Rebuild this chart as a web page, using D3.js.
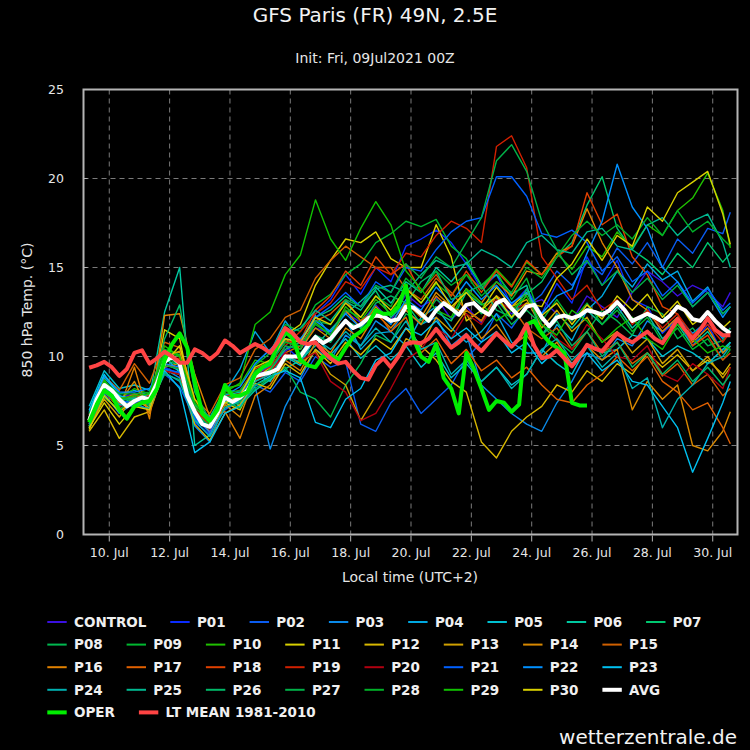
<!DOCTYPE html>
<html><head><meta charset="utf-8">
<script src="https://cdn.jsdelivr.net/npm/d3@7"></script>
<style>html,body{margin:0;padding:0;background:#000;}svg{display:block;}</style>
</head><body>
<svg id="chart" width="750" height="750"></svg>
<script>
// ---------- texts ----------
const titleText = "GFS Paris (FR) 49N, 2.5E";
const subtitleText = "Init: Fri, 09Jul2021 00Z";
const yAxisTitle = "850 hPa Temp. (°C)";
const xAxisTitle = "Local time (UTC+2)";
const watermarkText = "wetterzentrale.de";
const yTickValues = [0, 5, 10, 15, 20, 25];
const xTickDays = [10, 12, 14, 16, 18, 20, 22, 24, 26, 28, 30];
const xTickMonth = "Jul";

// ---------- members (12-hourly, from 09 Jul 08:00 local) ----------
const memberNames = ["CONTROL","P01","P02","P03","P04","P05","P06","P07","P08","P09","P10","P11","P12","P13","P14","P15","P16","P17","P18","P19","P20","P21","P22","P23","P24","P25","P26","P27","P28","P29","P30"];
const memberColors = ["#3a10e0","#0a2cff","#0a5cf0","#0a8ae8","#00a8e0","#00c0d0","#00c8a0","#00c870","#00b850","#00b830","#20c000","#d8d000","#d8b800","#d0a000","#d88800","#d06000","#e08000","#e06000","#e04000","#d02000","#b00010","#0060ff","#0090ff","#00c0f0","#00b0b0","#00b890","#00b868","#00b048","#00b028","#10c000","#d8d000"];

const control = [6.6,8.6,7.7,7.9,7.4,10.2,9.4,7.0,6.2,7.5, 7.4,8.8,9.4,10.3,10.8,11.6,11.3,12.5,11.9,12.9, 12.0,13.5,12.8,13.3,12.1,12.8,11.9,13.1,12.4,12.9, 13.2,12.4,12.0,13.4,12.8,12.2,13.6,14.8,14.2,13.4, 14.0,13.6,12.8,13.6];
const p01 = [6.2,8.3,7.2,7.6,7.3,9.4,9.0,6.3,5.6,7.3, 7.9,9.2,9.0,10.6,9.8,12.4,13.2,14.6,13.5,15.0, 14.2,16.2,16.6,17.1,16.4,15.2,13.8,14.6,12.9,13.8, 12.4,14.1,13.0,15.6,14.0,15.4,13.2,12.8,11.3,12.1, 10.6,11.8,10.2,10.8];
const p02 = [6.5,8.0,7.4,7.2,7.7,9.0,8.3,6.5,5.8,7.0, 7.6,8.4,8.0,9.1,8.6,10.0,9.4,9.7,6.2,5.8, 7.4,8.2,6.8,7.6,8.4,9.9,10.8,12.4,11.6,12.8, 13.5,14.8,14.0,15.3,14.6,16.1,15.2,16.4,15.0,16.6, 15.8,17.2,16.9,18.1];
const p03 = [6.0,7.9,6.8,7.4,7.0,9.3,8.8,6.1,5.2,7.4, 7.9,8.3,4.8,7.2,8.8,10.4,9.8,11.2,10.6,12.0, 11.4,12.6,11.8,12.2,10.6,11.3,8.4,7.6,6.8,6.2, 5.8,7.4,8.6,10.2,9.8,11.0,10.6,12.0,11.4,12.2, 11.3,12.0,11.0,11.6];
const p04 = [6.8,8.8,7.9,8.1,7.8,9.6,9.2,6.4,5.9,8.0, 9.3,11.4,10.2,12.0,10.8,12.3,11.2,12.1,10.4,11.3, 11.4,10.6,12.2,12.8,11.6,10.8,11.4,12.4,10.8,10.2, 10.2,11.8,10.9,12.6,13.4,14.8,13.9,15.2,14.3,14.8, 13.1,13.9,12.4,12.8];
const p05 = [7.2,9.2,8.2,8.4,8.1,10.0,9.1,6.8,6.0,7.8, 8.0,9.1,8.6,10.0,9.5,11.2,10.1,11.0,9.9,10.6, 9.8,10.6,9.4,10.2,8.8,9.6,8.6,9.4,8.4,9.0, 10.4,9.6,9.0,10.6,10.2,10.4,11.2,11.0,10.0,10.6, 10.2,9.6,10.4,10.8];
const p06 = [6.1,8.2,7.3,7.6,7.7,12.5,15.0,5.0,5.6,7.9, 7.2,8.1,8.7,9.3,9.8,10.6,11.5,12.4,13.1,13.9, 13.0,14.2,13.6,15.0,14.2,15.3,14.0,14.6,13.5,14.0, 11.2,12.4,11.6,12.6,11.8,12.8,11.6,12.4,11.0,11.8, 10.6,11.4,10.2,10.8];
const p07 = [6.4,8.5,7.8,7.3,7.5,9.8,9.5,7.1,6.4,7.9, 7.6,8.6,9.3,10.4,10.8,12.2,12.6,13.4,12.8,13.7, 12.2,13.0,11.8,12.5,12.0,13.6,12.9,13.3,12.1,13.5, 14.2,15.6,16.4,18.5,20.1,17.2,16.0,15.4,14.6,15.8, 15.0,16.4,15.3,15.8];
const p08 = [6.0,7.7,7.0,7.8,7.2,9.0,8.7,6.6,5.9,7.2, 7.4,8.2,8.8,9.4,8.0,7.6,6.6,8.4,9.6,11.2, 10.8,12.4,12.0,13.2,12.6,13.8,12.4,13.0,11.8,12.6, 11.8,10.9,10.2,11.4,12.6,12.0,11.2,12.8,12.4,11.0, 11.6,10.6,10.9,11.6];
const p09 = [6.3,8.1,7.5,7.7,7.3,10.4,10.1,7.4,6.3,7.7, 7.8,9.5,10.2,11.8,11.4,12.9,13.5,14.6,15.2,16.4, 16.9,17.6,17.3,17.7,16.2,15.5,14.0,14.8,13.2,14.4, 12.0,13.2,12.0,13.0,11.8,12.6,11.4,12.2,10.8,11.6, 10.4,11.0,9.8,10.4];
const p10 = [6.7,8.7,7.6,8.2,7.9,10.6,10.0,7.3,6.5,8.2, 8.4,9.8,9.6,10.9,10.4,11.9,11.2,12.8,12.0,13.2, 12.4,13.9,13.0,14.1,13.4,14.6,13.8,14.9,14.0,15.3, 14.6,15.8,14.9,16.2,15.6,17.0,16.1,17.4,16.8,18.2, 18.9,20.3,18.2,16.1];
const p11 = [5.9,7.8,6.9,7.6,7.1,11.5,11.0,6.8,5.7,7.4, 7.0,8.7,9.4,11.2,11.8,14.0,15.4,16.6,16.4,17.0, 15.5,15.0,15.0,17.4,15.6,12.0,12.6,13.9,12.8,13.6, 12.3,13.0,11.8,12.9,12.1,13.4,12.6,13.5,12.2,13.1, 11.8,12.4,11.6,12.0];
const p12 = [5.8,7.0,5.4,6.6,6.9,9.2,9.0,6.2,5.3,6.8, 7.3,8.5,8.2,9.6,9.0,10.4,9.6,10.8,10.1,11.0, 10.4,11.6,10.6,9.8,8.6,8.0,5.2,4.3,5.8,6.6, 7.2,8.4,8.0,9.2,8.6,9.6,9.0,10.2,9.4,10.1, 9.2,9.8,9.0,9.6];
const p13 = [6.1,7.6,6.6,7.9,7.4,10.0,10.3,7.2,6.2,7.6, 7.9,8.7,9.2,10.1,9.6,10.3,9.0,8.4,6.4,7.8, 9.3,11.0,10.6,12.2,11.4,12.6,12.0,13.4,12.8,13.2, 11.6,12.6,11.4,12.2,10.8,11.4,10.2,11.0,9.6,10.4, 9.2,10.0,8.8,9.4];
const p14 = [6.3,8.2,7.4,8.6,6.8,9.4,9.6,7.0,6.0,7.3, 6.6,8.9,9.8,11.0,10.4,11.6,11.0,12.6,11.6,12.8, 11.9,13.0,12.2,13.6,12.8,12.4,11.0,11.8,10.6,11.2, 10.0,10.8,9.6,10.6,9.8,10.4,7.0,8.6,7.6,8.4, 5.0,4.7,5.8,6.9];
const p15 = [6.6,8.9,8.1,9.6,8.5,10.8,10.5,7.6,6.8,8.4, 8.8,10.4,11.0,12.2,12.6,14.4,15.4,16.2,15.6,15.0, 15.0,13.8,13.2,14.4,13.6,12.6,12.0,13.4,12.8,11.6, 11.0,11.6,10.4,11.4,10.2,10.8,9.6,10.2,8.9,9.6, 8.4,9.0,7.8,8.2];
const p16 = [6.0,8.0,7.1,9.4,6.5,12.3,12.4,9.0,6.6,6.9, 5.4,7.8,8.4,9.8,9.2,10.8,10.2,11.6,11.0,12.4, 11.6,12.6,11.8,13.4,12.6,13.8,13.0,14.2,13.4,14.8, 14.6,15.8,16.2,18.3,16.4,15.0,13.2,12.6,11.4,12.2, 10.8,11.6,10.2,10.6];
const p17 = [6.4,8.4,7.5,7.9,7.6,9.9,9.8,7.2,6.1,7.7, 7.7,8.6,9.0,10.2,10.6,12.0,12.4,13.2,12.0,12.6, 11.4,12.2,10.2,11.0,9.6,10.4,9.2,9.8,8.8,9.4, 8.4,7.6,7.4,8.4,9.0,10.0,9.2,10.0,8.6,8.0, 7.0,7.4,6.0,5.1];
const p18 = [6.7,8.5,7.6,7.8,7.8,9.6,9.3,6.9,6.3,7.9, 8.1,9.3,9.7,10.8,10.9,12.6,13.4,14.8,14.0,15.6, 14.6,15.2,13.6,14.6,13.4,14.8,13.6,14.8,13.9,15.4, 14.6,15.6,16.2,19.2,17.4,18.0,15.6,14.6,12.8,12.4, 10.6,11.2,9.8,10.2];
const p19 = [6.2,8.4,7.6,7.7,7.6,9.8,9.9,7.0,6.2,7.8, 7.9,9.0,9.4,10.6,11.4,12.4,13.0,14.2,13.8,15.0, 14.6,15.8,15.6,16.8,17.6,17.2,16.4,21.8,22.4,20.6, 15.6,14.4,13.2,14.0,12.6,13.2,11.8,12.6,11.6,12.4, 11.2,11.8,10.8,11.4];
const p20 = [6.3,8.0,7.2,7.4,7.5,9.2,9.0,6.7,5.9,7.4, 7.6,8.7,9.1,10.2,9.8,10.2,8.6,8.0,6.4,6.8, 8.2,9.8,10.4,11.6,11.0,12.4,11.8,13.2,12.6,13.0, 12.2,11.0,10.4,11.8,11.0,10.0,9.8,10.6,9.0,8.6, 9.6,9.0,8.2,9.4];
const p21 = [6.5,8.3,7.5,7.4,7.7,9.3,9.1,6.6,5.7,7.6, 7.8,9.0,9.5,11.0,10.8,12.2,12.8,13.6,12.8,14.2, 13.6,15.0,14.8,16.0,17.0,17.6,17.8,20.1,20.1,19.0, 16.9,16.7,17.1,16.4,14.8,15.6,14.2,14.8,13.4,14.2, 13.0,13.8,12.6,13.0];
const p22 = [6.9,8.9,8.0,8.0,8.2,9.6,9.4,6.9,6.0,7.8, 8.3,9.6,10.4,11.3,11.0,12.0,11.4,12.4,11.6,12.6, 11.8,13.2,12.6,13.9,13.0,14.2,13.2,14.0,13.0,13.6, 12.4,13.4,13.8,15.8,17.6,20.8,18.4,17.2,15.0,14.2, 12.8,13.6,12.2,12.8];
const p23 = [7.0,9.0,7.8,7.6,7.4,9.2,8.2,4.6,5.2,6.8, 7.2,8.4,8.9,9.2,8.8,6.3,6.0,7.6,8.2,9.8, 10.2,11.6,11.2,12.0,11.0,11.6,10.8,11.4,10.2,10.8, 9.6,10.4,9.6,10.2,9.2,9.8,8.6,8.4,7.2,6.0, 3.5,5.4,7.4,8.6];
const p24 = [6.2,8.0,7.3,7.2,7.1,9.1,8.6,6.4,5.5,7.1, 7.5,8.6,9.0,10.0,9.7,11.0,10.4,11.4,10.6,11.6, 10.8,12.0,10.4,10.8,9.0,9.8,8.6,9.4,8.2,9.0, 10.4,11.0,9.8,10.6,9.4,10.2,8.2,8.8,6.0,7.6, 8.4,9.6,10.0,10.6];
const p25 = [6.4,8.2,7.6,7.6,7.9,10.2,9.7,7.3,6.6,8.1, 8.0,9.0,9.8,11.2,11.6,12.6,12.0,13.1,12.6,13.8, 14.0,13.6,14.6,15.4,15.0,15.2,16.0,15.6,15.0,16.4, 16.8,16.0,15.8,17.0,17.2,16.2,16.0,17.4,17.8,16.8, 17.6,18.0,16.4,15.0];
const p26 = [6.1,8.0,7.5,7.7,7.4,11.0,12.9,8.0,6.4,7.5, 7.1,8.4,8.8,9.8,10.2,11.2,10.8,12.0,11.6,13.0, 13.4,13.0,14.2,14.8,13.2,13.6,14.0,12.6,12.2,13.8, 11.2,12.0,10.6,11.4,10.0,10.8,9.4,10.2,9.0,9.8, 8.6,9.4,8.4,9.0];
const p27 = [6.6,8.4,7.7,7.5,7.6,9.5,9.3,6.8,6.1,7.8, 7.5,8.8,9.2,10.6,10.4,12.0,11.8,13.2,12.8,14.0, 13.6,15.2,14.4,15.6,15.0,16.4,17.8,21.0,21.9,20.4, 17.6,16.0,14.6,15.4,14.0,14.8,13.6,14.4,13.2,14.0, 12.8,13.6,12.4,12.8];
const p28 = [6.8,8.6,7.9,7.9,8.0,10.0,9.5,7.2,6.2,7.9, 8.1,9.2,9.6,10.8,10.6,11.8,11.2,12.6,12.2,13.4, 12.8,14.4,13.6,14.8,14.0,14.6,13.4,14.2,13.6,15.0, 14.4,15.6,16.8,17.6,16.8,17.4,16.6,17.8,16.8,18.2, 17.0,17.6,16.6,16.2];
const p29 = [6.5,8.6,7.6,7.8,7.9,10.3,10.0,7.4,6.4,8.0, 8.5,11.8,12.5,14.6,15.7,18.8,16.6,15.4,17.2,18.7, 17.4,14.8,13.8,12.6,12.2,13.8,13.0,12.0,12.6,13.4, 11.8,11.2,12.6,12.0,10.8,11.6,12.2,11.0,10.4,11.8, 11.0,10.2,10.6,10.4];
const p30 = [6.0,7.4,6.2,7.2,7.0,9.6,10.6,7.6,6.3,7.4, 7.8,9.4,9.8,11.0,10.8,12.2,11.8,13.0,12.2,13.4, 12.6,13.8,13.0,14.2,12.8,13.6,12.6,13.4,12.2,13.0, 12.8,14.4,15.2,16.6,15.4,16.8,16.2,18.4,17.6,19.2, 19.8,20.4,18.0,16.3];
const memberSeries = [control,p01,p02,p03,p04,p05,p06,p07,p08,p09,p10,p11,p12,p13,p14,p15,p16,p17,p18,p19,p20,p21,p22,p23,p24,p25,p26,p27,p28,p29,p30];

// ---------- highlighted series (6-hourly) ----------
const avgValues = [6.4,7.6,8.4,8.1,7.6,7.2,7.5,7.7,7.6,8.5, 9.7,10.0,9.6,7.8,6.9,6.2,6.05,6.8,7.7,7.45, 7.7,8.1,8.9,9.0,9.1,9.3,10.0,10.0,10.0,10.6, 11.1,10.75,11.0,11.5,12.0,11.6,11.8,12.15,12.3,12.25, 12.0,12.1,12.8,12.75,12.4,12.0,12.6,13.0,12.7,12.35, 12.9,13.0,12.6,12.35,13.0,13.2,12.7,12.25,12.8,12.9, 12.2,11.7,12.2,12.3,12.15,12.3,12.6,12.5,12.35,12.6, 13.05,12.6,12.0,12.2,12.4,12.2,11.95,12.3,12.8,12.6, 12.1,12.0,12.5,12.0,11.6,11.3];
const operValues = [6.3,7.3,8.1,7.8,7.0,6.5,7.2,7.4,7.5,8.2, 9.8,10.7,11.3,10.5,8.6,6.8,6.4,7.0,8.4,7.8, 7.8,8.0,9.0,9.4,9.6,10.7,11.4,11.0,9.8,9.5, 9.4,10.0,10.1,9.8,10.5,11.1,11.4,11.8,12.6,12.4, 12.4,12.8,14.0,11.0,10.0,9.7,10.7,8.8,8.2,6.8, 10.2,9.3,8.2,7.0,7.5,7.4,6.9,7.3,11.8,12.0, 11.3,10.8,10.5,10.2,7.4,7.25,7.25];
const ltMeanValues = [9.37,9.5,9.7,9.4,8.9,9.3,10.2,10.35,9.6,9.9, 10.27,10.0,9.65,9.65,10.4,10.2,9.85,10.2,10.9,10.6, 10.2,10.45,10.7,10.5,10.2,10.8,11.6,11.3,10.8,10.7, 10.8,10.3,9.9,9.6,9.7,9.2,8.8,8.7,9.5,9.9, 9.4,10.0,10.7,10.8,10.75,11.0,11.55,11.0,10.5,10.8, 11.2,10.7,10.3,10.8,11.3,10.9,10.55,11.0,11.8,10.6, 9.9,10.0,10.35,9.9,9.45,10.0,10.65,10.45,10.3,10.8, 11.3,11.0,10.8,11.1,11.4,11.0,10.75,11.4,12.1,11.5, 11.0,11.5,12.15,11.5,11.2,11.2];

// ---------- time grid (hours relative to 10 Jul 00:00 local) ----------
const firstHour = -16;
const fineHours = d3.range(avgValues.length).map(i => firstHour + 6 * i);
const memberHours = d3.range(43).map(i => firstHour + 12 * i).concat([494]);

// ---------- layout ----------
const svg = d3.select("#chart");
const W = 750, H = 750;
const plot = {left: 83.5, right: 737.5, top: 89.5, bottom: 534.5};
const font = "'DejaVu Sans', Verdana, sans-serif";
svg.append("rect").attr("width", W).attr("height", H).attr("fill", "#000");

const x = d3.scaleLinear().domain([-20.5, 499.7]).range([plot.left, plot.right]);
const y = d3.scaleLinear().domain([0, 25]).range([plot.bottom, plot.top]);

// grid
const grid = svg.append("g").attr("stroke", "#7a7a7a").attr("stroke-width", 1).attr("stroke-dasharray", "5,4");
yTickValues.filter(v => v > 0 && v < 25).forEach(v => {
  grid.append("line").attr("x1", plot.left).attr("x2", plot.right).attr("y1", y(v)).attr("y2", y(v));
});
const tickHours = xTickDays.map(d => (d - 10) * 24);
tickHours.forEach(h => {
  grid.append("line").attr("x1", x(h)).attr("x2", x(h)).attr("y1", plot.top).attr("y2", plot.bottom);
});

// clip
svg.append("clipPath").attr("id", "clip").append("rect")
  .attr("x", plot.left).attr("y", plot.top).attr("width", plot.right - plot.left).attr("height", plot.bottom - plot.top);
const lines = svg.append("g").attr("clip-path", "url(#clip)");

function pathFor(hours, values) {
  const n = Math.min(hours.length, values.length);
  const pts = d3.range(n).map(i => [hours[i], values[i]]);
  return d3.line().x(d => x(d[0])).y(d => y(d[1]))(pts);
}

memberSeries.forEach((s, i) => {
  lines.append("path").attr("d", pathFor(memberHours, s))
    .attr("fill", "none").attr("stroke", memberColors[i]).attr("stroke-width", 1.4)
    .attr("stroke-linejoin", "round");
});
const avgColor = "#ffffff", operColor = "#00ee00", ltColor = "#ff4444";
lines.append("path").attr("d", pathFor(fineHours, avgValues))
  .attr("fill", "none").attr("stroke", avgColor).attr("stroke-width", 4).attr("stroke-linejoin", "round");
lines.append("path").attr("d", pathFor(fineHours, operValues))
  .attr("fill", "none").attr("stroke", operColor).attr("stroke-width", 4).attr("stroke-linejoin", "round");
lines.append("path").attr("d", pathFor(fineHours, ltMeanValues))
  .attr("fill", "none").attr("stroke", ltColor).attr("stroke-width", 4).attr("stroke-linejoin", "round");

// frame
svg.append("rect").attr("x", plot.left).attr("y", plot.top)
  .attr("width", plot.right - plot.left).attr("height", plot.bottom - plot.top)
  .attr("fill", "none").attr("stroke", "#b4b4b4").attr("stroke-width", 2);

// ticks
const tickG = svg.append("g").attr("stroke", "#b4b4b4").attr("stroke-width", 1);
tickHours.forEach(h => tickG.append("line").attr("x1", x(h)).attr("x2", x(h)).attr("y1", plot.bottom + 1).attr("y2", plot.bottom + 7));
yTickValues.filter(v => v > 0 && v < 25).forEach(v => tickG.append("line").attr("x1", plot.left).attr("x2", plot.left + 4).attr("y1", y(v)).attr("y2", y(v)));

const txtColor = "#e6e6e6";
// y tick labels
yTickValues.forEach(v => {
  svg.append("text").attr("x", 64).attr("y", y(v)).attr("dy", "0.36em")
    .attr("text-anchor", "end").attr("font-family", font).attr("font-size", 12.5)
    .attr("fill", txtColor).text(v);
});
// x tick labels
xTickDays.forEach((d, i) => {
  svg.append("text").attr("x", x(tickHours[i])).attr("y", 557)
    .attr("text-anchor", "middle").attr("font-family", font).attr("font-size", 12.5)
    .attr("fill", txtColor).text(d + ". " + xTickMonth);
});
// axis titles
svg.append("text").attr("x", 410).attr("y", 582).attr("text-anchor", "middle")
  .attr("font-family", font).attr("font-size", 14).attr("fill", txtColor).text(xAxisTitle);
svg.append("text").attr("transform", "translate(27,310) rotate(-90)").attr("dy", "0.36em")
  .attr("text-anchor", "middle").attr("font-family", font).attr("font-size", 14)
  .attr("fill", txtColor).text(yAxisTitle);
// titles
svg.append("text").attr("x", 375).attr("y", 22).attr("text-anchor", "middle")
  .attr("font-family", font).attr("font-size", 20).attr("fill", "#f2f2f2").text(titleText);
svg.append("text").attr("x", 375).attr("y", 63).attr("text-anchor", "middle")
  .attr("font-family", font).attr("font-size", 14).attr("fill", "#e6e6e6").text(subtitleText);
// watermark
svg.append("text").attr("x", 737).attr("y", 744).attr("text-anchor", "end")
  .attr("font-family", font).attr("font-size", 20).attr("fill", "#f2f2f2").text(watermarkText);

// legend
const legendItems = memberNames.map((n, i) => ({name: n, color: memberColors[i], w: 2}))
  .concat([{name: "AVG", color: avgColor, w: 4}, {name: "OPER", color: operColor, w: 4}, {name: "LT MEAN 1981-2010", color: ltColor, w: 4}]);
const legend = svg.append("g");
const lgStart = 47.3, lgRow0 = 622, lgRowH = 22.6, swatch = 19.4, textOff = 26.7, itemGap = 23.9, minItem = 79.3, wrapAt = 720;
let lx = lgStart, row = 0;
legendItems.forEach(it => {
  const t = legend.append("text").attr("font-family", font).attr("font-size", 13.5)
    .attr("font-weight", "bold").attr("fill", "#f0f0f0").text(it.name);
  const tw = t.node().getComputedTextLength();
  if (lx + textOff + tw > wrapAt) { row++; lx = lgStart; }
  const cy = lgRow0 + row * lgRowH;
  legend.append("line").attr("x1", lx).attr("x2", lx + swatch).attr("y1", cy).attr("y2", cy)
    .attr("stroke", it.color).attr("stroke-width", it.w);
  t.attr("x", lx + textOff).attr("y", cy).attr("dy", "0.36em");
  lx += Math.max(minItem, textOff + tw + itemGap);
});
</script>
</body></html>
